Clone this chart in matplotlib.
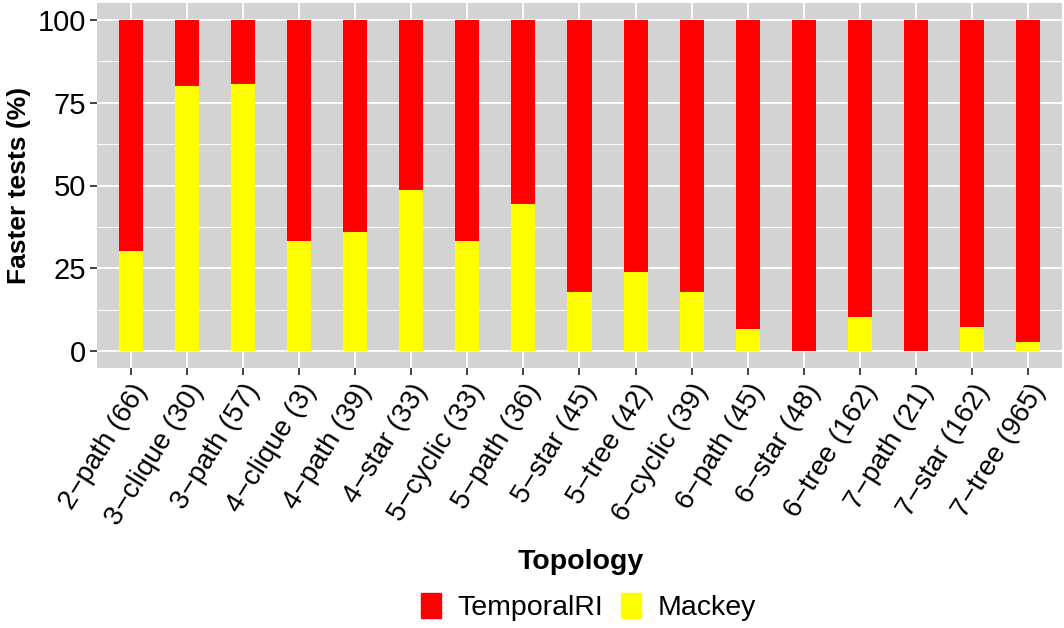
import numpy as np
import matplotlib.pyplot as plt
from matplotlib.patches import Patch
from matplotlib.ticker import MultipleLocator

plt.rcParams['font.family'] = ['Liberation Sans', 'DejaVu Sans']

topologies = ['2−path (66)', '3−clique (30)', '3−path (57)', '4−clique (3)', '4−path (39)',
              '4−star (33)', '5−cyclic (33)', '5−path (36)', '5−star (45)', '5−tree (42)',
              '6−cyclic (39)', '6−path (45)', '6−star (48)', '6−tree (162)', '7−path (21)',
              '7−star (162)', '7−tree (965)']
mackey = [30.3, 80.0, 80.7, 33.3, 35.9, 48.5, 33.3, 44.4, 17.8, 23.8,
          17.9, 6.7, 0.0, 10.5, 0.0, 7.4, 2.7]
temporalri = [100 - m for m in mackey]

fig = plt.figure(figsize=(10.64, 6.28), dpi=100)
ax = fig.add_axes([97/1064, 1 - 368/628, (1062-97)/1064, (368-3)/628])
ax.set_facecolor('#d3d3d3')

x = np.arange(len(topologies))
ax.bar(x, mackey, width=0.43, color='#ffff00', zorder=3)
ax.bar(x, temporalri, width=0.43, bottom=mackey, color='#ff0000', zorder=3)

ax.set_xlim(-0.6, len(topologies) - 0.4)
ax.set_ylim(-5, 105)
ax.yaxis.set_major_locator(MultipleLocator(25))
ax.yaxis.set_minor_locator(MultipleLocator(12.5))
ax.grid(which='major', color='white', linewidth=1.3, zorder=0)
ax.grid(which='minor', axis='y', color='white', linewidth=0.7, zorder=0)
ax.tick_params(which='minor', left=False)
for s in ax.spines.values():
    s.set_visible(False)

ax.set_xticks(x)
ax.set_xticklabels(topologies, rotation=58, ha='right', rotation_mode='anchor', fontsize=20)
ax.set_yticks([0, 25, 50, 75, 100])
ax.set_yticklabels(['0', '25', '50', '75', '100'], fontsize=21)
ax.tick_params(axis='both', which='major', length=5, width=1.3, color='#333333', pad=3)

ax.set_ylabel('Faster tests (%)', fontsize=19, fontweight='bold', labelpad=5)
fig.text(0.546, 1 - 562/628, 'Topology', fontsize=20.5, fontweight='bold', ha='center', va='center')

handles = [Patch(color='#ff0000', label='TemporalRI'), Patch(color='#ffff00', label='Mackey')]
fig.legend(handles=handles, loc='center', bbox_to_anchor=(0.553, 1 - 607/628), ncol=2,
           frameon=False, fontsize=20.5, handlelength=0.7, handleheight=1.0, handletextpad=0.6,
           columnspacing=0.6)

fig.savefig('out.png', dpi=100)
